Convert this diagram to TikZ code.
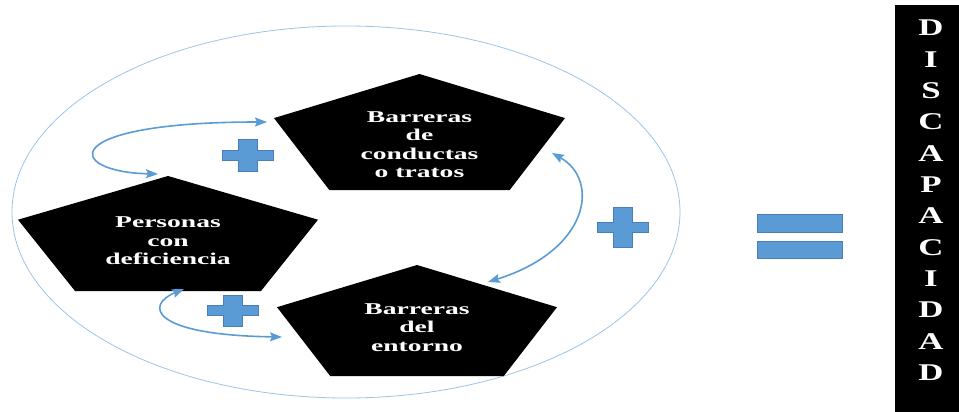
\documentclass[tikz,border=0pt]{standalone}
\usepackage{fontspec}
\setmainfont{Liberation Serif}
\usepackage{tikz}
\usetikzlibrary{calc}
\usetikzlibrary{arrows.meta}
\definecolor{pluscol}{HTML}{5B9BD5}
\definecolor{plusedge}{HTML}{4A7EBB}
\definecolor{ringcol}{HTML}{9DC3E6}
\tikzset{pent/.style={fill=black}}
\tikzset{ptext/.style={text=white,font=\bfseries\fontsize{16.5}{18.5}\selectfont,align=center,inner sep=0pt,xscale=1.67}}
\tikzset{letter/.style={text=white,font=\bfseries\fontsize{24}{24}\selectfont,inner sep=0pt,anchor=base,xscale=1.45}}
\tikzset{plus/.style={fill=pluscol,draw=plusedge,line width=.6pt}}
\tikzset{link/.style={draw=pluscol,line width=1.6pt,<->,>={Stealth[length=12pt,width=9pt,inset=2pt]}}}

\begin{document}
\begin{tikzpicture}[x=1pt,y=-1pt]
\useasboundingbox (0,0) rectangle (959,412);
\draw[ringcol,line width=.8pt] (346,212) ellipse [x radius=334, y radius=186];

\foreach \cx/\ty/\w/\h in {168/176/300/115, 419.5/74/291/116, 417/265/280/111}{
\fill[pent] (\cx,\ty) -- (\cx+\w/2,\ty+.38*\h) -- (\cx+.31*\w,\ty+\h)
  -- (\cx-.31*\w,\ty+\h) -- (\cx-\w/2,\ty+.38*\h) -- cycle;
}
\node[ptext] (P1) at (168,241) {Personas\\con\\deficiencia};
\node[ptext] (P2) at (419.5,144.5) {Barreras\\de\\conductas\\o tratos};
\node[ptext] (P3) at (417,327.5) {Barreras\\del\\entorno};

\foreach \cx/\cy/\h in {247.5/155/32, 232.5/310.5/31, 623/227/40}{
\draw[plus] (\cx-9.5,\cy-\h/2) -- (\cx+9.5,\cy-\h/2) -- (\cx+9.5,\cy-5) -- (\cx+25.5,\cy-5)
  -- (\cx+25.5,\cy+5) -- (\cx+9.5,\cy+5) -- (\cx+9.5,\cy+\h/2) -- (\cx-9.5,\cy+\h/2)
  -- (\cx-9.5,\cy+5) -- (\cx-25.5,\cy+5) -- (\cx-25.5,\cy-5) -- (\cx-9.5,\cy-5) -- cycle;
}
\draw[plus] (757,214) rectangle (842,232);
\draw[plus] (757,241) rectangle (842,258);

\coordinate (a1) at (158,174);
\coordinate (b1) at (267,122);
\draw[link] (a1) .. controls (65,172) and (55,122) .. (b1);
\coordinate (a2) at (184,289);
\coordinate (b2) at (282,337);
\draw[link] (a2) .. controls (145,305) and (150,335) .. (b2);
\coordinate (a3) at (552,153);
\coordinate (b3) at (488,282);
\draw[link] (a3) .. controls (600,180) and (590,250) .. (b3);

\fill (895,5) rectangle (959,412);
\foreach \c [count=\i from 0] in {D,I,S,C,A,P,A,C,I,D,A,D}{
\node[letter] (L\i) at (931,36+31.3*\i) {\c};
}
\end{tikzpicture}
\end{document}
